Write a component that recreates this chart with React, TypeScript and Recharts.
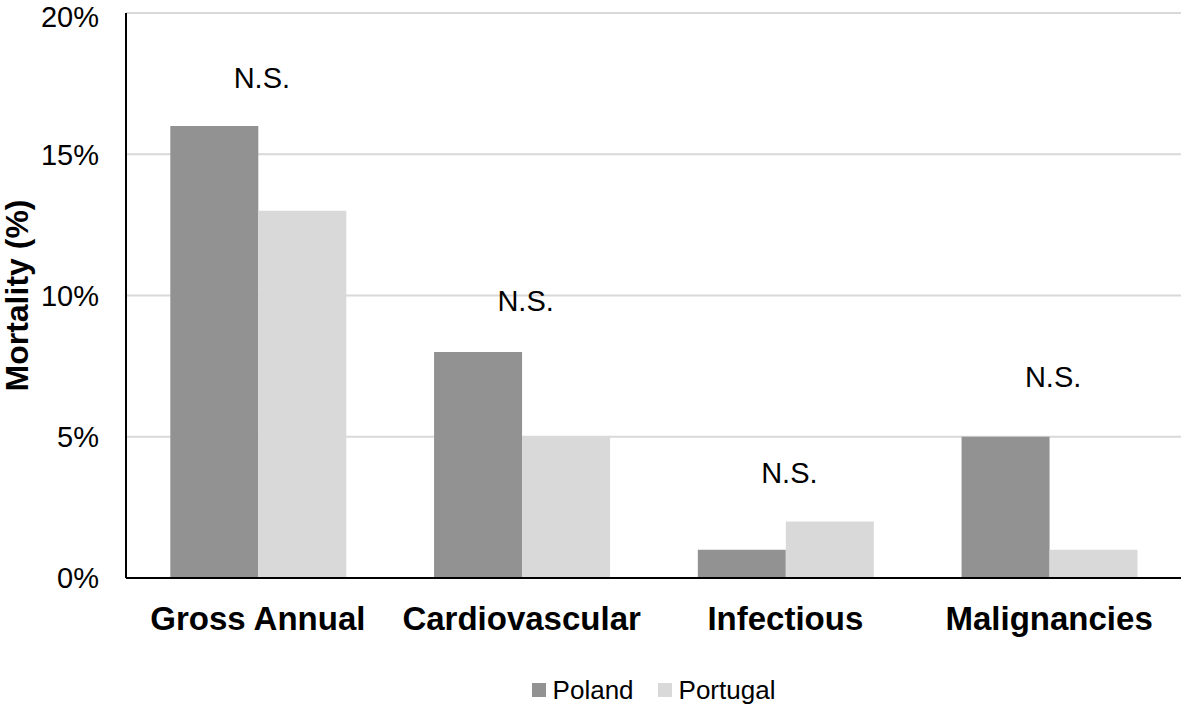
import {
  ComposedChart,
  Bar,
  Line,
  XAxis,
  YAxis,
  CartesianGrid,
  Legend,
  LabelList,
} from 'recharts'

const categories = ['Gross Annual', 'Cardiovascular', 'Infectious', 'Malignancies']
const poland = [16, 8, 1, 5]
const portugal = [13, 5, 2, 1]
// height (in %) where each "N.S." note sits
const nsLevel = [17.7, 9.8, 3.7, 7.1]
const yTicks = [0, 5, 10, 15, 20]

const data = categories.map((name, i) => ({
  name,
  Poland: poland[i],
  Portugal: portugal[i],
  ns: nsLevel[i],
}))

const font = '"Liberation Sans", Arial, sans-serif'

const NsLabel = (props: any) => {
  const { x, y } = props
  return (
    <text x={x + 4} y={y} textAnchor="middle" dominantBaseline="central" fontSize={29} fill="#000" fontFamily={font}>
      N.S.
    </text>
  )
}

const YLabel = (props: any) => {
  const { viewBox } = props
  const cy = viewBox.y + viewBox.height / 2
  return (
    <text
      x={17}
      y={cy}
      transform={`rotate(-90, 17, ${cy})`}
      textAnchor="middle"
      dominantBaseline="central"
      fontSize={32}
      fontWeight="bold"
      fill="#000"
      fontFamily={font}
    >
      Mortality (%)
    </text>
  )
}

const LegendContent = (props: any) => {
  const { payload } = props
  return (
    <div
      style={{
        display: 'flex',
        justifyContent: 'center',
        alignItems: 'center',
        height: 40,
        paddingTop: 10,
        boxSizing: 'border-box',
        fontFamily: font,
        fontSize: 26,
        color: '#000',
      }}
    >
      {payload
        .filter((p: any) => p.type !== 'none')
        .map((p: any) => (
          <div key={p.value} style={{ display: 'flex', alignItems: 'center', margin: '0 12px' }}>
            <span style={{ width: 14, height: 14, background: p.color, marginRight: 7, display: 'inline-block' }} />
            <span>{p.value}</span>
          </div>
        ))}
    </div>
  )
}

export default function App() {
  return (
    <div style={{ position: 'absolute', left: 0, top: 0, background: '#fff', fontFamily: font }}>
      <ComposedChart
        width={1181}
        height={705}
        data={data}
        margin={{ top: 13, right: 0, left: 0, bottom: 0 }}
        barCategoryGap="16.8%"
        barGap={0}
      >
        <CartesianGrid vertical={false} stroke="#d9d9d9" strokeWidth={2} />
        <XAxis
          dataKey="name"
          height={87}
          tickLine={false}
          tickMargin={23}
          axisLine={{ stroke: '#000', strokeWidth: 2 }}
          tick={{ fontSize: 33, fontWeight: 'bold', fill: '#000', fontFamily: font }}
        />
        <YAxis
          width={126}
          domain={[0, 20]}
          ticks={yTicks}
          tickFormatter={(v) => `${v}%`}
          tickLine={false}
          tickMargin={21}
          axisLine={{ stroke: '#000', strokeWidth: 2 }}
          tick={{ fontSize: 29, fill: '#000', fontFamily: font }}
          label={<YLabel />}
        />
        <Legend
          verticalAlign="bottom"
          height={40}
          content={<LegendContent />}
          wrapperStyle={{ left: 126, width: 1055, height: 40 }}
        />
        <Bar dataKey="Poland" fill="#929292" isAnimationActive={false} />
        <Bar dataKey="Portugal" fill="#d9d9d9" isAnimationActive={false} />
        <Line dataKey="ns" stroke="none" dot={false} legendType="none" isAnimationActive={false}>
          <LabelList dataKey="ns" content={NsLabel} />
        </Line>
      </ComposedChart>
    </div>
  )
}
